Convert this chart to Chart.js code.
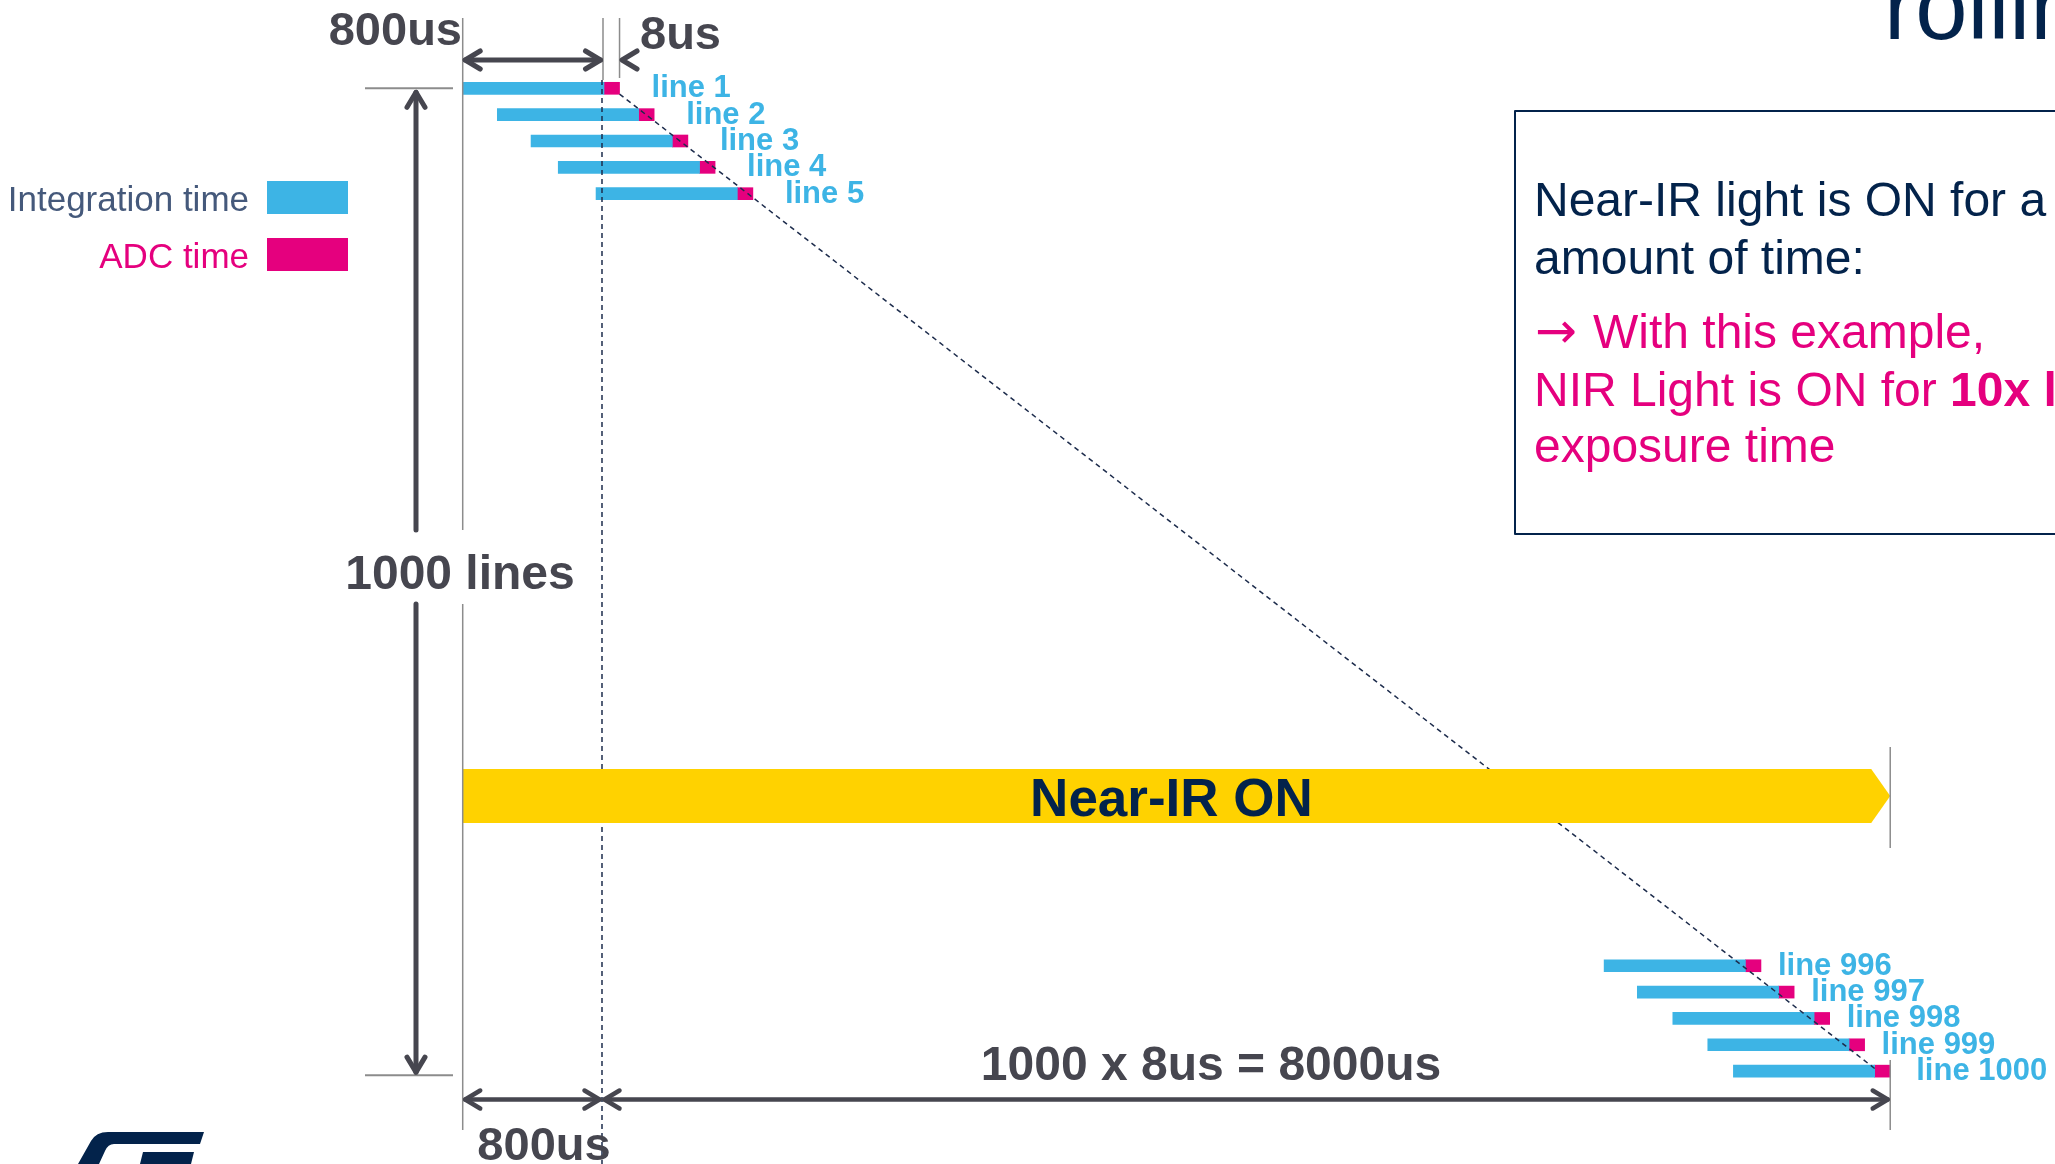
<!DOCTYPE html>
<html>
<head>
<meta charset="utf-8">
<title>Rolling shutter – Near-IR ON time</title>
<script src="https://cdn.jsdelivr.net/npm/chart.js@4.4.1/dist/chart.umd.min.js"></script>
<style>
  html, body { margin: 0; padding: 0; background: #ffffff; overflow: hidden; }
  #wrap { width: 2055px; height: 1164px; position: relative; }
  canvas { display: block; }
</style>
</head>
<body>
<div id="wrap"><canvas id="chart" width="2055" height="1164"></canvas></div>
<script>
// Sensor lines shown in the readout diagram (the middle of the frame is elided)
const lineNames = ['line 1', 'line 2', 'line 3', 'line 4', 'line 5',
                   'line 996', 'line 997', 'line 998', 'line 999', 'line 1000'];
const lineRow   = [0, 1, 2, 3, 4, 33.3, 34.3, 35.3, 36.3, 37.3];
const lineStart = [0, 196, 387, 541, 755, 6463, 6651, 6852, 7050, 7195];
const integrationTime = 800;   // us
const adcSpan = 88;            // ADC slot, widened so it stays visible
const legendLabels = ['Integration time', 'ADC time'];
const dimLabels = ['800us', '8us', '1000 lines', '1000 x 8us = 8000us', '800us'];

const BLUE = '#3db4e5', PINK = '#e5007e', YELLOW = '#ffd200', NAVY = '#03234b';
const DIM = '#46464f', THIN = '#8c8c8c', SLATE = '#45597b';
const SANS = '"Liberation Sans", Arial, Helvetica, sans-serif';

const integrationBars = lineStart.map((s, i) => ({ x: [s, s + integrationTime], y: lineRow[i] }));
const adcBars = lineStart.map((s, i) => ({ x: [s + integrationTime, s + integrationTime + adcSpan], y: lineRow[i] }));

function seg(ctx, x1, y1, x2, y2) {
  ctx.beginPath(); ctx.moveTo(x1, y1); ctx.lineTo(x2, y2); ctx.stroke();
}
// open chevron head; (dx,dy) is the unit direction the head points to
function head(ctx, tx, ty, dx, dy, len, half) {
  const px = -dy, py = dx;
  ctx.beginPath();
  ctx.moveTo(tx - dx * len + px * half, ty - dy * len + py * half);
  ctx.lineTo(tx, ty);
  ctx.lineTo(tx - dx * len - px * half, ty - dy * len - py * half);
  ctx.stroke();
}
function hArrow(ctx, x1, x2, y) {
  const inset = 2.5;
  seg(ctx, x1 + inset, y, x2 - inset, y);
  head(ctx, x1 + inset, y, -1, 0, 15, 9);
  head(ctx, x2 - inset, y, 1, 0, 15, 9);
}

const annotations = {
  id: 'rollingAnnotations',
  afterDatasetsDraw(chart) {
    const { ctx, scales: { x, y } } = chart;
    const X = v => x.getPixelForValue(v);
    const Y = r => y.getPixelForValue(r);
    const last = lineStart.length - 1;
    const x0 = X(0);
    const xInt = X(integrationTime);
    const xAdc = X(integrationTime + adcSpan);
    const xEnd = X(lineStart[last] + integrationTime + adcSpan);
    const yFirst = Y(lineRow[0]);
    const yLast = Y(lineRow[last]);

    ctx.save();

    // dashed guides: end of the first exposure, and the readout diagonal
    ctx.strokeStyle = '#1d2c4c';
    ctx.lineWidth = 1.5;
    ctx.setLineDash([5, 4]);
    seg(ctx, xInt - 2, 80, xInt - 2, 1164);
    seg(ctx, xAdc, Y(lineRow[0] + 0.22), X(lineStart[last] + integrationTime), Y(lineRow[last] - 0.1));
    ctx.setLineDash([]);

    // Near-IR illumination window
    const bt = Y(25.83), bb = Y(27.88), tipLen = 19;
    ctx.fillStyle = YELLOW;
    ctx.beginPath();
    ctx.moveTo(x0, bt);
    ctx.lineTo(xEnd - tipLen, bt);
    ctx.lineTo(xEnd, (bt + bb) / 2);
    ctx.lineTo(xEnd - tipLen, bb);
    ctx.lineTo(x0, bb);
    ctx.closePath();
    ctx.fill();
    ctx.fillStyle = NAVY;
    ctx.font = 'bold 53px ' + SANS;
    ctx.textAlign = 'center';
    ctx.textBaseline = 'alphabetic';
    ctx.fillText('Near-IR ON', (x0 + xEnd) / 2 - 5, 816);

    // thin extension lines
    ctx.strokeStyle = THIN;
    ctx.lineWidth = 1.5;
    seg(ctx, x0, 18, x0, 530);
    seg(ctx, x0, 604, x0, 1130);
    seg(ctx, xInt - 1, 18, xInt - 1, 80);
    seg(ctx, xAdc, 18, xAdc, 78);
    seg(ctx, xEnd, 747, xEnd, 848);
    seg(ctx, xEnd, 1060, xEnd, 1130);
    ctx.lineWidth = 2;
    seg(ctx, 365, yFirst, 453, yFirst);
    seg(ctx, 365, yLast + 4, 453, yLast + 4);

    // dimension arrows
    ctx.strokeStyle = DIM;
    ctx.lineWidth = 5;
    ctx.lineCap = 'round';
    ctx.lineJoin = 'round';
    hArrow(ctx, x0, xInt - 1, 60);
    head(ctx, xAdc + 2.5, 60, -1, 0, 15, 9);
    const ax = 416;
    seg(ctx, ax, yFirst + 4, ax, 530);
    seg(ctx, ax, 604, ax, yLast + 1);
    head(ctx, ax, yFirst + 4, 0, -1, 15, 9);
    head(ctx, ax, yLast + 1, 0, 1, 15, 9);
    ctx.lineWidth = 4.5;
    hArrow(ctx, x0, xInt - 2, 1099.5);
    hArrow(ctx, xInt - 2, xEnd, 1099.5);

    // dimension texts
    ctx.fillStyle = DIM;
    ctx.font = 'bold 47px ' + SANS;
    ctx.textAlign = 'right';
    ctx.fillText(dimLabels[0], 462, 45);
    ctx.textAlign = 'left';
    ctx.fillText(dimLabels[1], 640, 49);
    ctx.textAlign = 'center';
    ctx.font = 'bold 48px ' + SANS;
    ctx.fillText(dimLabels[2], 460, 589);
    ctx.fillText(dimLabels[3], 1211, 1080);
    ctx.font = 'bold 47px ' + SANS;
    ctx.fillText(dimLabels[4], 544, 1160);

    // line labels next to each ADC slot
    ctx.fillStyle = BLUE;
    ctx.font = 'bold 31px ' + SANS;
    ctx.textAlign = 'left';
    lineNames.forEach((name, i) => {
      const gap = i < 5 ? 32 : (i === last ? 26 : 17);
      ctx.fillText(name, X(lineStart[i] + integrationTime + adcSpan) + gap, Y(lineRow[i]) + 9);
    });

    // legend
    ctx.font = '35px ' + SANS;
    ctx.textAlign = 'right';
    ctx.fillStyle = SLATE;
    ctx.fillText(legendLabels[0], 249, 211);
    ctx.fillStyle = PINK;
    ctx.fillText(legendLabels[1], 249, 268);
    ctx.fillStyle = BLUE;
    ctx.fillRect(267, 181, 81, 33);
    ctx.fillStyle = PINK;
    ctx.fillRect(267, 238, 81, 33);

    // note box
    ctx.strokeStyle = NAVY;
    ctx.lineWidth = 2;
    ctx.strokeRect(1515, 111, 620, 423);
    ctx.textAlign = 'left';
    const boxFont = '48px ' + SANS;
    ctx.font = boxFont;
    ctx.fillStyle = NAVY;
    ctx.fillText('Near-IR light is ON for a', 1534, 216);
    ctx.fillText('amount of time:', 1534, 274);
    ctx.fillStyle = PINK;
    ctx.font = '50px "DejaVu Sans", ' + SANS;
    ctx.fillText('\u2192', 1535, 348);
    ctx.font = boxFont;
    ctx.fillText('With this example,', 1593, 348);
    const lead = 'NIR Light is ON for ';
    ctx.fillText(lead, 1534, 406);
    const leadW = ctx.measureText(lead).width;
    ctx.font = 'bold 48px ' + SANS;
    ctx.fillText('10x l', 1534 + leadW, 406);
    ctx.font = boxFont;
    ctx.fillText('exposure time', 1534, 462);

    // slide title
    ctx.fillStyle = NAVY;
    ctx.font = '94px ' + SANS;
    ctx.fillText('rolling', 1884, 39);

    // ST logo (top part)
    ctx.fillStyle = NAVY;
    ctx.beginPath();
    ctx.moveTo(78, 1164);
    ctx.lineTo(91, 1141);
    ctx.quadraticCurveTo(96, 1132, 108, 1132);
    ctx.lineTo(204, 1132);
    ctx.lineTo(200, 1144);
    ctx.lineTo(114, 1144);
    ctx.quadraticCurveTo(108, 1144, 105, 1151);
    ctx.lineTo(99, 1164);
    ctx.closePath();
    ctx.fill();
    ctx.beginPath();
    ctx.moveTo(143, 1152);
    ctx.lineTo(194, 1152);
    ctx.lineTo(191, 1164);
    ctx.lineTo(140, 1164);
    ctx.closePath();
    ctx.fill();

    ctx.restore();
  }
};

new Chart(document.getElementById('chart'), {
  type: 'bar',
  data: {
    datasets: [
      { label: legendLabels[0], data: integrationBars, backgroundColor: BLUE,
        barThickness: 12, grouped: false, borderWidth: 0 },
      { label: legendLabels[1], data: adcBars, backgroundColor: PINK,
        barThickness: 12, grouped: false, borderWidth: 0 }
    ]
  },
  options: {
    indexAxis: 'y',
    responsive: false,
    animation: false,
    devicePixelRatio: 1,
    layout: { padding: 0 },
    plugins: { legend: { display: false }, tooltip: { enabled: false } },
    scales: {
      x: { type: 'linear', min: -2620, max: 9016, display: false, offset: false },
      y: { type: 'linear', min: -3.351, max: 40.824, reverse: true, display: false,
           offset: false, grid: { offset: false } }
    }
  },
  plugins: [annotations]
});
</script>
</body>
</html>
